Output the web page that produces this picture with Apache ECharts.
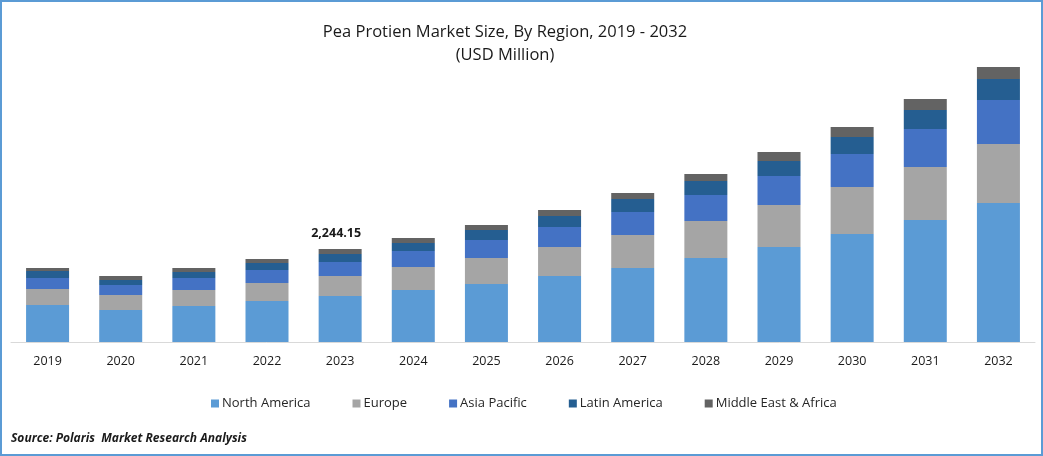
<!DOCTYPE html>
<html lang="en">
<head>
<meta charset="utf-8">
<title>Pea Protien Market Size, By Region, 2019 - 2032</title>
<script src="https://cdn.jsdelivr.net/npm/echarts@6/dist/echarts.min.js"></script>
<style>
  html, body { margin: 0; padding: 0; background: #fff; }
  #chart { width: 1043px; height: 456px; }
</style>
</head>
<body>
<div id="chart"></div>
<script>
var years = ['2019', '2020', '2021', '2022', '2023', '2024', '2025', '2026', '2027', '2028', '2029', '2030', '2031', '2032'];

// USD million (2023 stack adds up to the printed 2,244.15)
var northAmerica = [893, 772, 869, 989, 1110, 1255, 1400, 1593, 1786, 2027, 2293, 2606, 2944, 3354];
var europe = [386, 362, 386, 434, 483, 555, 627, 700, 796, 893, 1014, 1134, 1279, 1424];
var asiaPacific = [265, 241, 290, 314, 338, 386, 434, 483, 555, 627, 700, 796, 917, 1062];
var latinAmerica = [169, 121, 145, 169, 193, 193, 241, 265, 314, 338, 362, 410, 458, 507];
var middleEastAfrica = [72, 97, 97, 97, 120.15, 121, 121, 145, 145, 169, 217, 241, 265, 290];

var seriesNames = ['North America', 'Europe', 'Asia Pacific', 'Latin America', 'Middle East & Africa'];
var seriesColors = ['#5b9bd5', '#a5a5a5', '#4472c4', '#255e91', '#636363'];
var labelYear = '2023';
var sourceText = 'Source: Polaris  Market Research Analysis';
var fontName = '"Open Sans", "Noto Sans", sans-serif';

function total(i) {
    return northAmerica[i] + europe[i] + asiaPacific[i] + latinAmerica[i] + middleEastAfrica[i];
}

// only the 2023 bar carries a total above it
var topData = middleEastAfrica.map(function (v, i) {
    if (years[i] !== labelYear) return v;
    return {
        value: v,
        label: {
            show: true,
            position: 'top',
            distance: 9,
            offset: [-4, 0],
            color: '#1a1a1a',
            fontFamily: fontName,
            fontSize: 12.5,
            fontWeight: 'bold',
            formatter: total(i).toLocaleString('en-US', { minimumFractionDigits: 2 })
        }
    };
});

var allData = [northAmerica, europe, asiaPacific, latinAmerica, topData];

var myChart = echarts.init(document.getElementById('chart'), null, { renderer: 'canvas' });

myChart.setOption({
    animation: false,
    color: seriesColors,
    title: [{
        text: 'Pea Protien Market Size, By Region, 2019 - 2032\n(USD Million)',
        left: 500,
        top: 16,
        textAlign: 'center',
        textStyle: {
            fontFamily: fontName,
            fontSize: 16.5,
            fontWeight: 'normal',
            color: '#1a1a1a',
            lineHeight: 23
        }
    }, {
        text: sourceText,
        left: 6,
        top: 428,
        textStyle: {
            fontFamily: fontName,
            fontSize: 12,
            fontWeight: 'bold',
            fontStyle: 'italic',
            color: '#1a1a1a'
        }
    }],
    legend: {
        left: 206,
        top: 392,
        icon: 'rect',
        itemWidth: 8,
        itemHeight: 8,
        itemGap: 42,
        data: seriesNames,
        textStyle: {
            fontFamily: fontName,
            fontSize: 13,
            color: '#262626',
            padding: [0, 0, 0, -2]
        }
    },
    grid: { left: 11, right: 8, top: 52, height: 290, containLabel: false },
    xAxis: {
        type: 'category',
        data: years,
        axisTick: { show: false },
        axisLine: { lineStyle: { color: '#d9d9d9', width: 1 } },
        axisLabel: {
            margin: 13,
            color: '#1a1a1a',
            fontFamily: fontName,
            fontSize: 12.5
        }
    },
    yAxis: {
        type: 'value',
        min: 0,
        max: 7000,
        show: false,
        splitLine: { show: false }
    },
    series: seriesNames.map(function (name, i) {
        return {
            name: name,
            type: 'bar',
            stack: 'total',
            barWidth: 43,
            data: allData[i]
        };
    }),
    graphic: [{
        type: 'rect',
        silent: true,
        shape: { x: 1, y: 1, width: 1041, height: 454 },
        style: { fill: 'none', stroke: '#5b9bd5', lineWidth: 2 }
    }]
});
</script>
</body>
</html>
